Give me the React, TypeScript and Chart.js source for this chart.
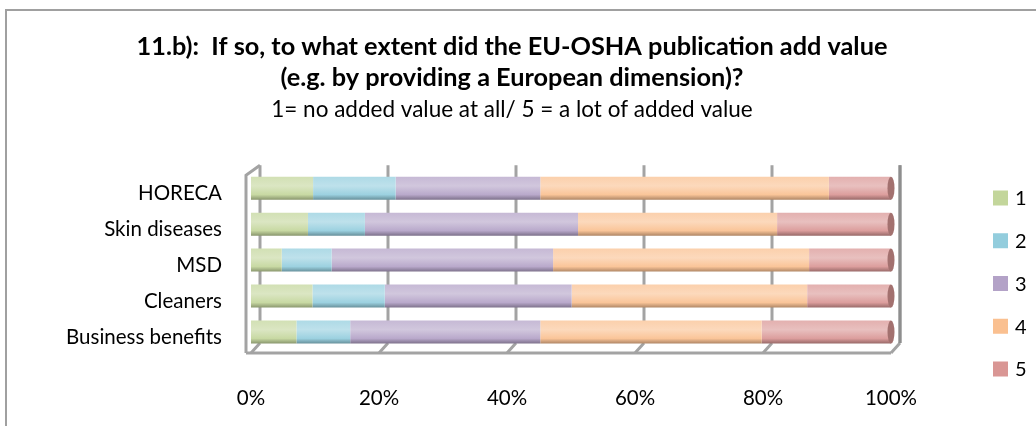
import { useEffect, useRef } from 'react';
import { Chart, registerables } from 'chart.js';

Chart.register(...registerables);

const categories = ['HORECA', 'Skin diseases', 'MSD', 'Cleaners', 'Business benefits'];
const seriesLabels = ['1', '2', '3', '4', '5'];
const s1 = [9.7, 8.9, 4.8, 9.6, 7.1];
const s2 = [12.9, 8.9, 7.8, 11.3, 8.4];
const s3 = [22.6, 33.3, 34.6, 29.2, 29.7];
const s4 = [45.1, 31.1, 40.0, 36.8, 34.6];
const s5 = [9.7, 17.8, 12.8, 13.1, 20.2];
const seriesValues = [s1, s2, s3, s4, s5];
const xTicks = [0, 20, 40, 60, 80, 100];
const titleLines = [
  '11.b):  If so, to what extent did the EU-OSHA publication add value',
  '(e.g. by providing a European dimension)?',
];
const subtitleText = '1= no added value at all/ 5 = a lot of added value';

const seriesColors = ['#c3d69b', '#93cddd', '#b3a2c7', '#fac090', '#d99694'];
const FONT = 'Lato, "Open Sans", sans-serif';

function mix(hex: string, target: number, t: number) {
  const n = parseInt(hex.slice(1), 16);
  const r = (n >> 16) & 255, g = (n >> 8) & 255, b = n & 255;
  const f = (c: number) => Math.round(c + (target - c) * t);
  return `rgb(${f(r)},${f(g)},${f(b)})`;
}

const framePlugin = {
  id: 'frame3d',
  beforeDraw(chart: any) {
    const { ctx } = chart;
    ctx.save();
    ctx.fillStyle = '#ffffff';
    ctx.fillRect(0, 0, chart.width, chart.height);
    ctx.strokeStyle = '#a0a0a0';
    ctx.lineWidth = 2;
    ctx.beginPath();
    ctx.moveTo(6, chart.height + 10);
    ctx.lineTo(6, 10);
    ctx.lineTo(chart.width + 10, 10);
    ctx.stroke();
    ctx.restore();
  },
  beforeDatasetsDraw(chart: any) {
    const { ctx, chartArea: ca, scales } = chart;
    const xs = scales.x;
    const dx = 9, dy = 10;
    const backTop = ca.top - 5;
    const backBottom = ca.bottom - 7;
    const frontBottom = backBottom + dy;
    ctx.save();
    ctx.strokeStyle = '#a3a3a3';
    ctx.lineWidth = 3;
    ctx.lineCap = 'butt';
    xTicks.forEach((v) => {
      const xb = xs.getPixelForValue(v) + dx;
      ctx.beginPath();
      ctx.moveTo(xb, backTop);
      ctx.lineTo(xb, backBottom);
      ctx.stroke();
      ctx.beginPath();
      ctx.moveTo(xb, backBottom);
      ctx.lineTo(xb - dx, frontBottom);
      ctx.stroke();
    });
    const x0 = xs.getPixelForValue(0) - 5;
    const x1 = xs.getPixelForValue(100);
    ctx.beginPath();
    ctx.moveTo(x0, frontBottom);
    ctx.lineTo(x1, frontBottom);
    ctx.stroke();
    ctx.beginPath();
    ctx.moveTo(x0, frontBottom);
    ctx.lineTo(x0, backTop + dy);
    ctx.lineTo(x0 + 14, backTop);
    ctx.stroke();
    ctx.strokeStyle = '#8e8e8e';
    ctx.beginPath();
    ctx.moveTo(xs.getPixelForValue(100) + dx, backTop);
    ctx.lineTo(xs.getPixelForValue(100) + dx, backBottom);
    ctx.stroke();
    ctx.restore();
  },
  afterDatasetsDraw(chart: any) {
    const { ctx } = chart;
    const last = chart.data.datasets.length - 1;
    const meta = chart.getDatasetMeta(last);
    ctx.save();
    meta.data.forEach((el: any) => {
      const h = el.height;
      ctx.beginPath();
      ctx.ellipse(el.x, el.y, 3.5, h / 2, 0, 0, Math.PI * 2);
      ctx.fillStyle = mix(seriesColors[last], 0, 0.25);
      ctx.fill();
    });
    ctx.restore();
  },
  afterDraw(chart: any) {
    const { ctx } = chart;
    ctx.save();
    ctx.font = `20px ${FONT}`;
    ctx.textBaseline = 'middle';
    ctx.textAlign = 'left';
    chart.data.datasets.forEach((ds: any, i: number) => {
      const yc = 198 + i * 42.75;
      ctx.fillStyle = seriesColors[i];
      ctx.fillRect(993, yc - 7.5, 15, 15);
      ctx.fillStyle = '#000';
      ctx.fillText(ds.label, 1015, yc + 1);
    });
    ctx.restore();
  },
};

function barGradient(i: number) {
  return (c: any) => {
    const chart = c.chart;
    const ys = chart.scales && chart.scales.y;
    const base = seriesColors[i];
    if (!chart.chartArea || !ys || c.dataIndex === undefined) return base;
    const yc = ys.getPixelForValue(c.dataIndex);
    const half = (ys.getPixelForValue(1) - ys.getPixelForValue(0)) * 0.32;
    const g = chart.ctx.createLinearGradient(0, yc - half, 0, yc + half);
    g.addColorStop(0, mix(base, 255, 0.25));
    g.addColorStop(0.4, mix(base, 255, 0.4));
    g.addColorStop(0.78, mix(base, 255, 0.08));
    g.addColorStop(1, mix(base, 0, 0.3));
    return g;
  };
}

export default function App() {
  const ref = useRef<HTMLCanvasElement>(null);
  useEffect(() => {
    if (!ref.current) return;
    const chart = new Chart(ref.current, {
      type: 'bar',
      data: {
        labels: categories,
        datasets: seriesValues.map((vals, i) => ({
          label: seriesLabels[i],
          data: vals,
          backgroundColor: barGradient(i),
          borderWidth: 0,
          categoryPercentage: 1,
          barPercentage: 0.64,
        })),
      },
      options: {
        indexAxis: 'y',
        responsive: false,
        animation: false,
        layout: { padding: { left: 0, right: 12, top: 0, bottom: 20 } },
        plugins: {
          legend: { display: false },
          tooltip: { enabled: false },
          title: {
            display: true,
            text: titleLines,
            color: '#000',
            font: { family: FONT, size: 25.3, weight: 'bold', lineHeight: 1.225 },
            padding: { top: 31.5, bottom: 2 },
          },
          subtitle: {
            display: true,
            text: subtitleText,
            color: '#000',
            font: { family: FONT, size: 22.5, weight: 'normal', lineHeight: 1.3 },
            padding: { top: 0, bottom: 45.5 },
          },
        },
        scales: {
          x: {
            stacked: true,
            min: 0,
            max: 100,
            afterBuildTicks: (s: any) => {
              s.ticks = xTicks.map((v) => ({ value: v }));
            },
            ticks: {
              callback: (v: any) => v + '%',
              padding: 36,
              color: '#000',
              maxRotation: 0,
              font: { family: FONT, size: 20.5 },
            },
            grid: { display: false, drawTicks: false },
            border: { display: false },
            afterFit: (s: any) => {
              s.height = 56;
            },
          },
          y: {
            stacked: true,
            ticks: { color: '#000', padding: 29, labelOffset: 5, font: { family: FONT, size: 20.5 } },
            grid: { display: false, drawTicks: false },
            border: { display: false },
            afterFit: (s: any) => {
              s.width = 251;
            },
          },
          yR: {
            type: 'category',
            position: 'right',
            display: true,
            ticks: { display: false },
            grid: { display: false, drawTicks: false },
            border: { display: false },
            afterFit: (s: any) => {
              s.width = 133;
            },
          },
        },
      },
      plugins: [framePlugin],
    } as any);
    return () => chart.destroy();
  }, []);
  return (
    <div style={{ position: 'fixed', left: 0, top: 0, width: 1036, height: 426 }}>
      <canvas ref={ref} width={1036} height={426} />
    </div>
  );
}
